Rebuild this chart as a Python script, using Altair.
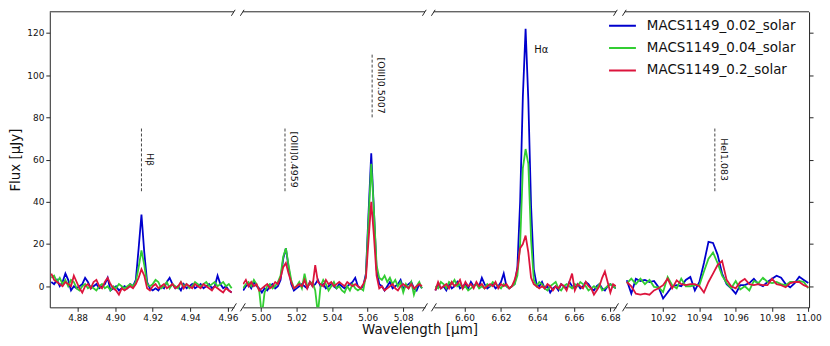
import altair as alt
import numpy as np
import pandas as pd

FONT = "DejaVu Sans"
AX = "#262626"

SERIES = ["MACS1149_0.02_solar", "MACS1149_0.04_solar", "MACS1149_0.2_solar"]
COLORS = ["#0000cd", "#32cd32", "#dc143c"]

# ---------------- panel 1 (H-beta) ----------------
p1_start, p1_step = 4.866, 0.0015
p1_blue = [2, 1, 3, 0, 2, 6, 3, -2, 0, -1,
           0, 1, 4, 2, -1, 0, 1, -1, 0, 1,
           4, -2, -1, 0, -2, -1, 0, -1, 1, 0,
           3, 18, 34, 16, 2, -1, -2, -1, -2, 0,
           -1, 2, 4, 1, -1, 0, -2, 1, -1, 0,
           1, -1, 0, 1, -1, 0, 1, -1, 0, 5,
           1, -1, 0, -2, -3]
p1_green = [4, 5, 2, 4, 1, 3, 0, 3, 2, -1,
            -2, 0, 1, -1, 0, -1, -2, 0, 1, -1,
            0, -2, 0, -1, 1, 0, -1, 0, 1, 0,
            2, 9, 17, 10, 1, 0, 1, 3, 2, -1,
            0, 2, -1, 1, 0, -1, 2, 0, 1, -1,
            0, 2, 1, 0, 1, 2, 0, 1, 2, 0,
            1, 2, 0, 1, -1]
p1_red = [6, 3, 2, 1, 0, 2, 1, 0, 5, 2,
          -1, -3, 0, 1, -1, 2, 3, 0, -1, 2,
          4, 1, -1, -2, -4, -1, -2, -1, 0, -1,
          1, 4, 8, 5, -1, -2, 0, 1, -1, 0,
          1, -1, 0, 1, -1, 0, 2, -1, 1, 0,
          -1, 1, 0, -1, 1, 0, -1, -2, 0, -1,
          -2, -3, -1, -2, -3]

# ---------------- panel 2 ([OIII]) ----------------
p2_start, p2_step = 4.990, 0.0015
p2_blue = [-2, 0, 1, -1, 2, 0, -1, -3, -1, -2,
           0, 1, -1, 0, 3, 13, 18, 9, 1, -2,
           -1, 0, 1, 0, -1, 2, 0, 1, 3, 0,
           1, -1, 0, 1, 0, -1, 1, 0, -1, 0,
           1, 2, 4, 0, -1, 0, 6, 35, 63, 36,
           8, 1, 0, -2, 0, 2, -1, 0, 1, 3,
           -1, 0, 1, 2, -1, -2, 1, -1]
p2_green = [-1, 1, 2, 0, 3, 1, -2, -14, -3, 0,
            1, -1, 0, 2, 5, 14, 18, 10, 3, -1,
            0, 2, -1, 6, 0, 1, 2, -2, -13, 0,
            3, 1, -2, 0, 2, -1, 0, -2, -3, 0,
            -2, 1, -1, -2, -1, -2, 5, 32, 58, 36,
            10, 4, 3, 5, 2, 4, 1, 3, 0, 2,
            -3, 1, -1, 2, -4, 0, 2, -1]
p2_red = [1, 3, 0, 2, 0, 1, -2, -1, 0, 1,
          -1, 0, 2, 1, 4, 9, 11, 6, 2, -1,
          0, 1, 0, 3, -1, 2, 0, 10, 2, 1,
          0, 3, 1, 2, 0, 1, 2, 1, 0, 2,
          1, 0, 1, 0, -1, 1, 4, 22, 40, 24,
          5, -1, 0, -2, -1, 0, 1, -1, -2, 0,
          1, 0, -1, 1, -1, 0, 1, 0]

# ---------------- panel 3 (H-alpha) ----------------
p3_start, p3_step = 6.584, 0.0015
p3_blue = [-2, 1, -1, 0, -2, 1, -1, 0, 2, -1,
           0, 1, -1, 2, 0, 1, 0, 4, 1, -1,
           0, 1, -1, 0, 2, 6, 0, -1, 0, 1,
           9, 40, 90, 122, 88, 38, 8, 1, 0, 2,
           -1, 0, -3, -1, 0, -2, 1, 0, -1, 2,
           0, -1, 1, -1, 0, 2, 1, -1, -2, 0,
           1, -1, -2, 0, 1, 0, -1]
p3_green = [0, -1, 2, 1, -1, 2, 1, 3, 0, 1,
            -1, 0, -2, -1, 0, 1, -1, 0, -1, 1,
            0, 2, 1, 0, -1, 1, 0, -1, 0, 1,
            5, 20, 56, 65, 58, 22, 3, 0, 2, 1,
            -1, -2, 0, 1, 2, -1, -2, 0, 1, 0,
            -1, 1, 0, 2, 1, 0, -2, -1, 0, -1,
            1, -2, -1, 0, 1, 0, -1]
p3_red = [-2, 2, -1, 0, 1, -1, 2, 0, 1, 3,
          -1, 2, 0, 1, -1, 2, 0, 1, -1, 0,
          1, 0, 2, -1, 1, 0, 1, -1, 0, 3,
          8, 18, 20, 24, 16, 4, 1, 0, -1, 0,
          -1, 1, 0, -2, 0, -1, 1, 0, -2, 2,
          6, -2, 1, 0, -1, 2, 0, -1, -4, -2,
          0, 4, 7, 2, -3, 1, 0]

# ---------------- panel 4 (HeI) ----------------
p4_start, p4_step = 10.900, 0.0025
p4_blue = [2.8, -3.5, 3.5, 2.5, 3, 2, 2.5, -0.5, -5.8, -3,
           0, 0.5, 0, 3, 4.4, -2, 2, 11, 21, 20.5,
           15, 6, 1, -1, -3.5, 0.5, 0.5, 1.5, 3.5, 1,
           0, 2, 3.5, 5, 4, 1, -0.5, 1.5, 4.5, 3,
           1.5]
p4_green = [1.3, 3.6, 1, 3.6, 1, 3, -0.3, -0.5, -2.7, 4.4,
            0.5, -1, 3.6, 0, 0, 0.5, 0.5, 7, 13, 16,
            11, 5, 1.5, -1, 2.5, -1.5, 0, -2, 2.5, 1.5,
            4, 2, 1.5, 2, 1, 0.5, 2, 2, 2.5, 2,
            -1]
p4_red = [2, 0, -3.5, -4, -3.5, -4, -2, -1, 0.5, 3.6,
          -1, 2.8, 1, 0.5, 1, 1, 0, -3, 2, 6,
          10, 12, 3, 0, -1, 2, 3.5, 1, 0.5, 1,
          0.5, 0.5, 3.6, 1, 0.5, -0.5, 1.5, 2, 2, 0.5,
          -0.5]

# axis limits / ticks per panel
x_domains = [[4.8652, 4.9632], [4.9898, 5.0922], [6.5832, 6.6831], [10.899, 11.0004]]
x_ticks = [[4.88, 4.90, 4.92, 4.94, 4.96],
           [5.00, 5.02, 5.04, 5.06, 5.08],
           [6.60, 6.62, 6.64, 6.66, 6.68],
           [10.92, 10.94, 10.96, 10.98, 11.00]]
panel_widths = [185, 183, 183, 185]
y_domain = [-10, 130]
y_ticks = [0, 20, 40, 60, 80, 100, 120]

# line identifications
line_panel = [0, 1, 1, 3]
line_wl = [4.914, 5.0135, 5.0625, 10.9485]
line_lo = [45, 45, 80, 45]
line_hi = [75, 75, 110, 75]
line_label = ["Hβ", "[OIII]0.4959", "[OIII]0.5007", "HeI1.083"]
ha_wl, ha_flux, ha_label = 6.6383, 112, "Hα"

H = 297

starts = [p1_start, p2_start, p3_start, p4_start]
steps = [p1_step, p2_step, p3_step, p4_step]
fluxes = [[p1_blue, p1_green, p1_red], [p2_blue, p2_green, p2_red],
          [p3_blue, p3_green, p3_red], [p4_blue, p4_green, p4_red]]

legend = alt.Legend(title=None, orient="none", legendX=561, legendY=7,
                    symbolType="stroke", symbolSize=729, symbolStrokeWidth=2,
                    labelFontSize=13.5, labelFont=FONT, labelColor="#111",
                    clipHeight=14, rowPadding=8.5, labelOffset=10, padding=0,
                    labelLimit=400)
color = alt.Color("series:N", scale=alt.Scale(domain=SERIES, range=COLORS), legend=legend)

one = pd.DataFrame({"k": [0]})

panels = []
for p in range(4):
    W = panel_widths[p]
    a, b = x_domains[p]
    if p == 0:
        yaxis = alt.Axis(values=y_ticks, title="Flux [μJy]", tickSize=4, labelPadding=2,
                         titlePadding=4, grid=False, labelFontSize=9, titleFontSize=13.5,
                         titleFontWeight="normal", titleFont=FONT, labelFont=FONT,
                         domainColor=AX, tickColor=AX, labelColor="#111", titleColor="#111")
    elif p == 3:
        yaxis = alt.Axis(values=y_ticks, orient="right", labels=False, title=None, tickSize=4,
                         grid=False, domainColor=AX, tickColor=AX)
    else:
        yaxis = None
    xscale = alt.Scale(domain=x_domains[p], nice=False, zero=False)
    yscale = alt.Scale(domain=y_domain, nice=False, zero=False)
    xaxis = alt.Axis(values=x_ticks[p], format=".2f", title=None, tickSize=4,
                     labelPadding=2, grid=False, labelFontSize=9, labelFont=FONT,
                     domainColor=AX, tickColor=AX, labelColor="#111", labelFlush=False)
    xenc = alt.X("wl:Q", scale=xscale, axis=xaxis)
    yenc = alt.Y("flux:Q", scale=yscale, axis=yaxis)

    layers = []
    for s in range(3):
        vals = fluxes[p][s]
        wl = np.round(starts[p] + steps[p] * np.arange(len(vals)), 5)
        df = pd.DataFrame({"wl": wl, "flux": vals, "series": SERIES[s]})
        layers.append(alt.Chart(df).mark_line(strokeWidth=1.8, clip=True).encode(
            x=xenc, y=yenc, color=color))

    idx = [i for i in range(len(line_panel)) if line_panel[i] == p]
    if idx:
        adf = pd.DataFrame({"wl": [line_wl[i] for i in idx],
                            "flux": [line_lo[i] for i in idx],
                            "flux2": [line_hi[i] for i in idx],
                            "mid": [(line_lo[i] + line_hi[i]) / 2 for i in idx],
                            "label": [line_label[i] for i in idx]})
        layers.append(alt.Chart(adf).mark_rule(color="#444", strokeWidth=1, strokeDash=[3, 2]).encode(
            x=xenc, y=yenc, y2=alt.Y2("flux2")))
        layers.append(alt.Chart(adf).mark_text(angle=90, align="center", baseline="bottom", dy=-4,
                                               fontSize=9.5, font=FONT, color="#111").encode(
            x=xenc, y=alt.Y("mid:Q", scale=yscale, axis=yaxis), text="label:N"))
    if p == 2:
        hdf = pd.DataFrame({"wl": [ha_wl], "flux": [ha_flux], "label": [ha_label]})
        layers.append(alt.Chart(hdf).mark_text(align="left", baseline="middle", fontSize=10,
                                               font=FONT, color="#111").encode(
            x=xenc, y=yenc, text="label:N"))

    # top spine
    layers.append(alt.Chart(one).mark_rule(color=AX, strokeWidth=1).encode(
        x=alt.value(0), x2=alt.value(W), y=alt.value(0)))

    # axis-break marks ("//") at the panel edges, top and bottom
    dxu = 2.5 * (b - a) / W
    dyu = 4.0 * (y_domain[1] - y_domain[0]) / H
    edges = []
    if p < 3:
        edges.append(b)
    if p > 0:
        edges.append(a)
    sx0, sx1, sy0, sy1 = [], [], [], []
    for e in edges:
        # bottom break mark
        sx0.append(e - dxu); sx1.append(e + dxu)
        sy0.append(y_domain[0] - dyu); sy1.append(y_domain[0] + dyu)
        # top break mark (kept short above the frame, to stay inside the page)
        sx0.append(e - dxu); sx1.append(e + dxu / 2)
        sy0.append(y_domain[1] - dyu); sy1.append(y_domain[1] + dyu / 2)
    sdf = pd.DataFrame({"wl": sx0, "wl2": sx1, "flux": sy0, "flux2": sy1})
    layers.append(alt.Chart(sdf).mark_rule(color=AX, strokeWidth=1).encode(
        x=xenc, x2=alt.X2("wl2"), y=yenc, y2=alt.Y2("flux2")))

    panels.append(alt.layer(*layers).properties(width=W, height=H))

chart = alt.hconcat(*panels, spacing=9, bounds="flush").properties(
    title=alt.TitleParams("Wavelength [μm]", orient="bottom", anchor="middle", fontSize=13.5,
                          font=FONT, fontWeight="normal", color="#111", offset=1, dx=5),
    padding={"left": 0, "top": 0, "right": 0, "bottom": 0},
).configure(font=FONT).configure_view(stroke=None)

chart.save("out.html", embed_options={"renderer": "svg", "actions": False})
